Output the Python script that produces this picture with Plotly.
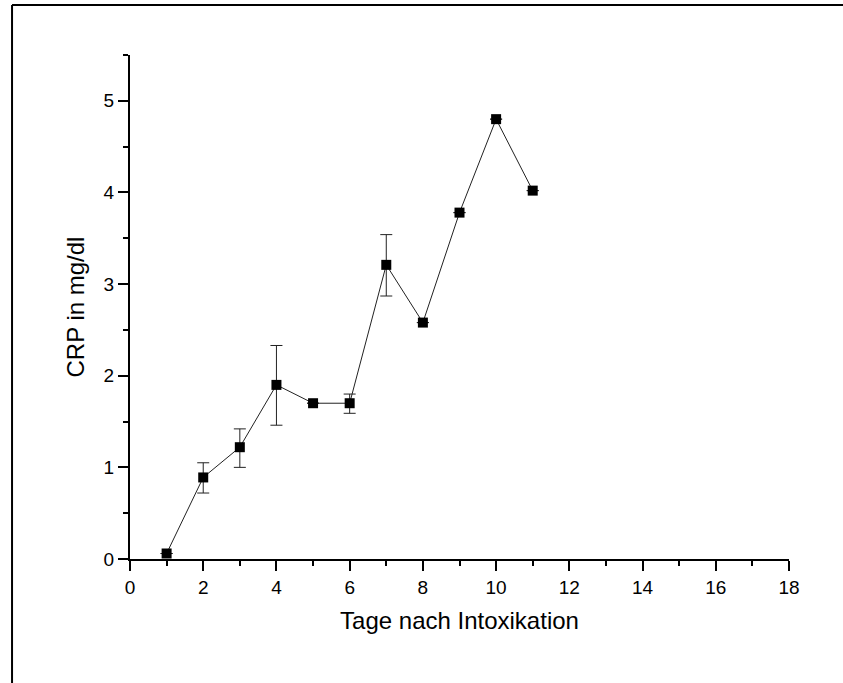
import plotly.graph_objects as go

days = [1, 2, 3, 4, 5, 6, 7, 8, 9, 10, 11]
crp = [0.06, 0.89, 1.22, 1.90, 1.70, 1.70, 3.21, 2.58, 3.78, 4.80, 4.02]
err_plus = [0, 0.16, 0.20, 0.43, 0, 0.10, 0.33, 0, 0, 0, 0]
err_minus = [0, 0.17, 0.22, 0.44, 0, 0.11, 0.34, 0, 0, 0, 0]

x_title = "Tage nach Intoxikation"
y_title = "CRP in mg/dl"

fig = go.Figure()
fig.add_trace(go.Scatter(
    x=days, y=crp, mode="lines+markers",
    line=dict(color="#222222", width=1),
    marker=dict(symbol="square", size=10, color="black"),
    error_y=dict(type="data", symmetric=False, array=err_plus, arrayminus=err_minus,
                 color="#222222", thickness=1, width=6),
    showlegend=False,
))

font = "Liberation Sans, Arial, sans-serif"
frame = dict(color="black", width=2)
fig.update_layout(
    width=843, height=683,
    margin=dict(l=130, r=54, t=55, b=124),
    paper_bgcolor="white", plot_bgcolor="white",
    font=dict(family=font, color="black"),
    xaxis=dict(
        range=[0, 18], tickmode="array", tickvals=[0, 2, 4, 6, 8, 10, 12, 14, 16, 18],
        ticks="outside", ticklen=10, tickwidth=2, tickcolor="black",
        showline=True, linewidth=2, linecolor="black",
        showgrid=False, zeroline=False,
        tickfont=dict(size=19),
        title=dict(text=x_title, font=dict(size=24), standoff=15),
        minor=dict(tickvals=[1, 3, 5, 7, 9, 11, 13, 15, 17], ticks="outside", ticklen=5,
                   tickwidth=2, tickcolor="black", showgrid=False),
    ),
    yaxis=dict(
        range=[0, 5.5], tickmode="array", tickvals=[0, 1, 2, 3, 4, 5],
        ticks="outside", ticklen=10, tickwidth=2, tickcolor="black",
        showline=True, linewidth=2, linecolor="black",
        showgrid=False, zeroline=False,
        tickfont=dict(size=19),
        title=dict(text=y_title, font=dict(size=24), standoff=12),
        minor=dict(tickvals=[0.5, 1.5, 2.5, 3.5, 4.5, 5.5], ticks="outside", ticklen=5,
                   tickwidth=2, tickcolor="black", showgrid=False),
    ),
    shapes=[
        dict(type="line", xref="paper", yref="paper", x0=-0.179, x1=-0.179, y0=-0.4, y1=1.099, line=frame),
        dict(type="line", xref="paper", yref="paper", x0=-0.179, x1=1.3, y0=1.099, y1=1.099, line=frame),
    ],
)

fig.write_html("out.html", config={"displayModeBar": False})
